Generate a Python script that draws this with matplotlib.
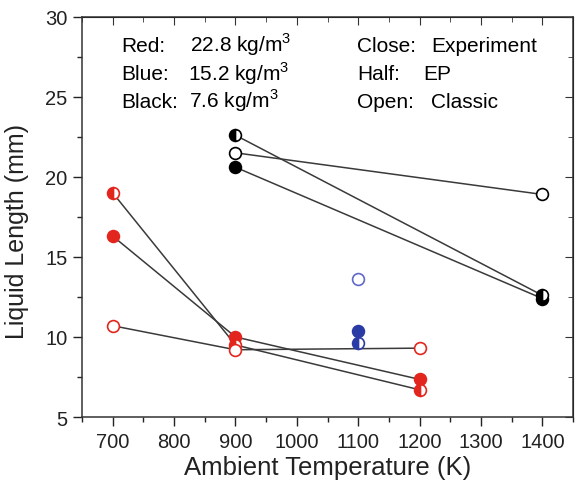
import matplotlib
matplotlib.use("Agg")
import matplotlib.pyplot as plt
from matplotlib.ticker import MultipleLocator

plt.rcParams["font.family"] = ["Liberation Sans", "DejaVu Sans"]
plt.rcParams["mathtext.fontset"] = "custom"
plt.rcParams["mathtext.rm"] = "Liberation Sans"

# data (Liquid length in mm)
t_red = [700, 900, 1200]
red_exp = [16.3, 10.0, 7.35]
red_ep = [19.0, 9.5, 6.7]
red_classic = [10.7, 9.2, 9.3]

t_blue = [1100]
blue_exp = [10.4]
blue_ep = [9.6]
blue_classic = [13.6]

t_black = [900, 1400]
black_exp = [20.6, 12.4]
black_ep = [22.6, 12.6]
black_classic = [21.5, 18.9]

red = "#e2261e"
blue = "#2b3ba6"
blue_open = "#6068c8"
black = "#000000"
line_c = "#3a3a3a"

fig = plt.figure(figsize=(5.76, 4.89), dpi=100)
ax = fig.add_axes([82 / 576, 1 - 418 / 489, 491 / 576, 400.3 / 489])

ms = 8.5
mew = 1.2


def series(x, y, c, kind, ec=None, line=True):
    if line:
        ax.plot(x, y, "-", color=line_c, lw=1.1, zorder=1)
    ec = ec or c
    if kind == "exp":
        ax.plot(x, y, "o", ls="none", ms=ms, mfc=c, mec=c, mew=mew, zorder=3)
    elif kind == "ep":
        ax.plot(x, y, "o", ls="none", ms=ms, mfc=c, mec=c, mew=mew,
                fillstyle="left", markerfacecoloralt="white", zorder=3)
    else:
        ax.plot(x, y, "o", ls="none", ms=ms, mfc="white", mec=ec, mew=mew, zorder=3)


series(t_red, red_exp, red, "exp")
series(t_red, red_ep, red, "ep")
series(t_red, red_classic, red, "classic")

series(t_blue, blue_classic, blue, "classic", ec=blue_open, line=False)
series(t_blue, blue_exp, blue, "exp", line=False)
series(t_blue, blue_ep, blue, "ep", line=False)

series(t_black, black_classic, black, "classic")
series(t_black, black_exp, black, "exp")
series(t_black, black_ep, black, "ep")

ax.set_xlim(650, 1450)
ax.set_ylim(5, 30)
ax.xaxis.set_major_locator(MultipleLocator(100))
ax.xaxis.set_minor_locator(MultipleLocator(50))
ax.yaxis.set_major_locator(MultipleLocator(5))
ax.yaxis.set_minor_locator(MultipleLocator(2.5))

ax.tick_params(which="both", direction="out", top=False, right=False,
               labelsize=14.5, colors="#222222", width=1, pad=4)
ax.tick_params(which="major", length=6.5)
ax.tick_params(which="minor", length=3.5)

# inward ticks on top and right, no labels
sec_x = ax.secondary_xaxis("top")
sec_x.xaxis.set_major_locator(MultipleLocator(100))
sec_x.xaxis.set_minor_locator(MultipleLocator(50))
sec_x.tick_params(which="both", direction="in", labeltop=False, color="#333333")
sec_x.tick_params(which="major", length=6)
sec_x.tick_params(which="minor", length=3.5)
sec_y = ax.secondary_yaxis("right")
sec_y.yaxis.set_major_locator(MultipleLocator(5))
sec_y.yaxis.set_minor_locator(MultipleLocator(2.5))
sec_y.tick_params(which="both", direction="in", labelright=False, color="#333333")
sec_y.tick_params(which="major", length=6)
sec_y.tick_params(which="minor", length=3.5)

for s in ax.spines.values():
    s.set_color("#333333")
    s.set_linewidth(1.1)

ax.set_xlabel("Ambient Temperature (K)", fontsize=18.5, color="#222222", labelpad=3)
ax.set_ylabel("Liquid Length (mm)", fontsize=18, color="#222222")
ax.yaxis.set_label_coords(-0.108, 0.465)


def px(x, y):
    return ((x - 82) / 491, (418 - y) / 400.3)


fs = 15
rows = [("Red:", "22.8 kg/m$^3$", 52, 190), ("Blue:", "15.2 kg/m$^3$", 80.5, 188),
        ("Black:", "7.6 kg/m$^3$", 107.5, 189)]
for lab, val, yb, xv in rows:
    ax.text(*px(121, yb), lab, transform=ax.transAxes, fontsize=fs, va="baseline")
    ax.text(*px(xv, yb), val, transform=ax.transAxes, fontsize=fs, va="baseline")

rows2 = [("Close:", "Experiment", 52, 431), ("Half:", "EP", 80.5, 423),
         ("Open:", "Classic", 107.5, 431)]
for lab, val, yb, xv in rows2:
    ax.text(*px(357, yb), lab, transform=ax.transAxes, fontsize=fs, va="baseline")
    ax.text(*px(xv, yb), val, transform=ax.transAxes, fontsize=fs, va="baseline")

fig.savefig("out.png", dpi=100)
